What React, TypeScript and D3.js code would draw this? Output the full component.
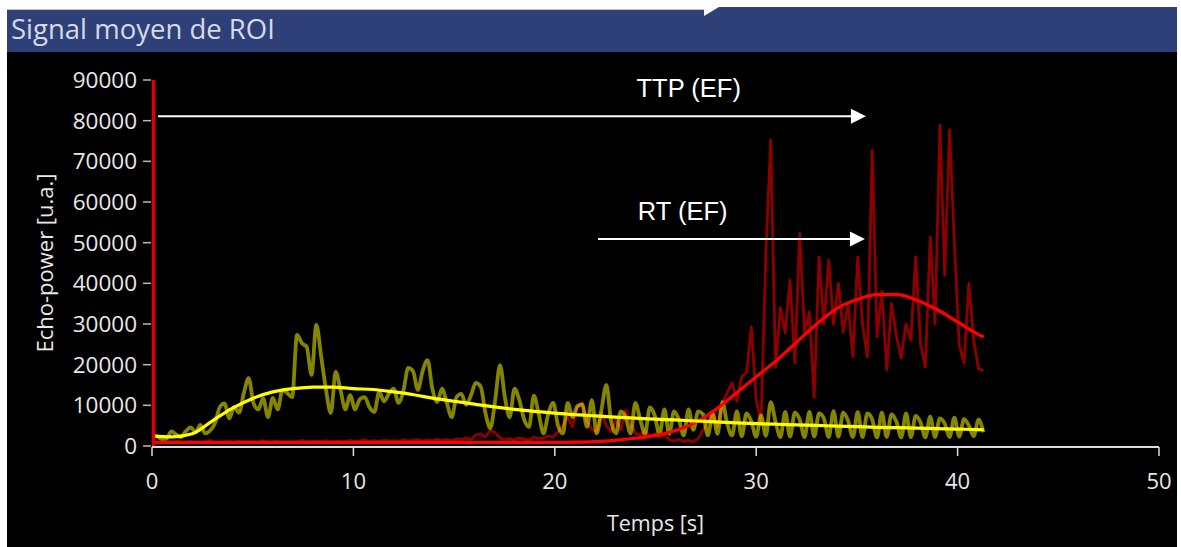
import React from "react";
import * as d3 from "d3";

// sampling step of the raw curves (s)
const FRAME_DT = 0.24;

// olive / yellow raw signal
const yellowRaw = [
  2500, 2400, 1700, 1800, 3600, 2800, 2200, 3600, 4600, 3400,
  5200, 3100, 3800, 5500, 9500, 10500, 6800, 9600, 8200, 13000,
  16700, 10500, 9000, 11700, 7100, 11800, 9000, 13800, 13000, 12000,
  27300, 25300, 24400, 17500, 29800, 22000, 13800, 8100, 18200, 13800,
  9000, 12500, 9000, 11500, 12000, 9500, 8400, 13300, 11000, 12800,
  14100, 10600, 13500, 19200, 18400, 13800, 18500, 21100, 14100, 10800,
  14100, 10600, 7100, 12000, 12800, 10100, 12500, 15500, 14600, 8000,
  4400, 11300, 19900, 12000, 7100, 14100, 11300, 6500, 4700, 12400,
  7900, 3100, 8000, 10600, 5000, 3100, 10600, 7100, 9800, 10200,
  4700, 11300, 3100, 9000, 15000, 6000, 3100, 8500, 7000, 3100,
  10600, 6500, 3000, 9500, 7500, 2800, 9000, 3000, 8500, 6500,
  2600, 9000, 4000, 8500, 7800, 2600, 8000, 3000, 10800, 5500,
  2600, 8500, 2400, 8000, 6000, 2300, 7500, 2500, 10800, 6000,
  2200, 8400, 2300, 8200, 6500, 2200, 8400, 2300, 8000, 6800,
  2200, 8600, 2300, 8200, 6200, 2200, 8300, 2200, 8000, 6500,
  2100, 8200, 2200, 7800, 6000, 2100, 8000, 2200, 7400, 5800,
  2100, 7200, 2200, 6800, 5500, 2200, 7000, 2300, 6600, 5000,
  2400, 6500, 3400,
];

// dark red raw signal
const redRaw = [
  800, 900, 700, 1000, 800, 1200, 900, 700, 1100, 900,
  800, 1000, 1300, 900, 800, 1100, 1000, 800, 1200, 900,
  1100, 800, 1000, 1300, 900, 1000, 1200, 800, 1100, 900,
  1000, 1400, 900, 1100, 1200, 1000, 1300, 900, 1200, 1100,
  1000, 1400, 1100, 1200, 1500, 1000, 1300, 1100, 1400, 1200,
  1300, 1100, 1500, 1200, 1400, 1600, 1200, 1500, 1300, 1700,
  1400, 1600, 1300, 1800, 1500, 2000, 1600, 2700, 3000, 2200,
  3900, 3200, 2000, 1600, 1800, 1500, 2000, 1700, 1500, 2200,
  1800, 2000, 2500, 2200, 3500, 5000, 7100, 4700, 9500, 10600,
  6000, 4000, 3500, 8000, 5000, 3500, 6500, 4000, 8800, 5500,
  3200, 2500, 3800, 2200, 3000, 2200, 2800, 1500, 1200, 1600,
  1100, 1400, 1000, 1800, 3900, 6000, 8000, 4700, 10600, 13000,
  15500, 11000, 17000, 18000, 29300, 11300, 5700, 47400, 75200, 19400,
  34000, 27800, 40800, 20400, 52300, 27800, 33000, 12000, 46500, 30000,
  45700, 30000, 40000, 28000, 35000, 21900, 46500, 30000, 21900, 72800,
  26800, 38000, 18700, 35000, 27000, 21600, 30000, 26000, 46500, 25000,
  19400, 51400, 30000, 78900, 42000, 77700, 50000, 25000, 20400, 40000,
  26000, 19000, 18500,
];

// fitted curves
const fitTimes = [
  0, 1, 2, 3, 4, 5, 6, 7, 8, 9, 10, 11, 12, 13, 14, 15, 16, 17, 18, 19, 20,
  21, 22, 23, 24, 25, 26, 27, 28, 29, 30, 31, 32, 33, 34, 35, 36, 37, 38, 39, 40, 41, 41.3,
];
const yellowFit = [
  2500, 2250, 3000, 6200, 9300, 11700, 13300, 14100, 14500, 14500, 14100,
  13900, 13300, 12600, 11700, 11000, 10300, 9600, 9000, 8500, 8100,
  7700, 7400, 7100, 6850, 6600, 6400, 6150, 5950, 5700, 5500,
  5350, 5200, 5050, 4900, 4750, 4600, 4500, 4380, 4260, 4150, 4050, 4000,
];
const redFit = [
  900, 900, 900, 900, 900, 900, 900, 900, 900, 900, 900,
  900, 900, 900, 900, 900, 900, 900, 900, 900, 900,
  950, 1100, 1400, 1900, 2600, 3800, 5800, 9000, 13000, 17000,
  21000, 25500, 30000, 33800, 36000, 37200, 37200, 35800, 33500, 30500, 27500, 26800,
];

const xTicks = [0, 10, 20, 30, 40, 50];
const yTicks = [0, 10000, 20000, 30000, 40000, 50000, 60000, 70000, 80000, 90000];

// annotation arrows (times in s, level in u.a.)
const ttpArrow = { label: "TTP (EF)", from: 0.3, to: 35.45, level: 81100, labelAt: 26.65 };
const rtArrow = { label: "RT (EF)", from: 22.15, to: 35.4, level: 50900, labelAt: 26.35 };

const W = 1181;
const H = 547;
const FONT = "'Open Sans', 'Noto Sans', sans-serif";

const App = () => {
  const x = d3.scaleLinear().domain([0, 50]).range([152, 1159]);
  const y = d3.scaleLinear().domain([0, 90000]).range([446, 80]);

  const rawLine = (curve: d3.CurveFactory) =>
    d3
      .line<number>()
      .x((_, i) => x(i * FRAME_DT))
      .y((d) => y(d))
      .curve(curve);

  const fitLine = d3
    .line<number>()
    .x((_, i) => x(fitTimes[i]))
    .y((d) => y(d))
    .curve(d3.curveMonotoneX);

  const arrow = (a: typeof ttpArrow, key: string) => {
    const x0 = x(a.from);
    const x1 = x(a.to);
    const yy = y(a.level);
    return (
      <g key={key}>
        <line x1={x0} x2={x1 - 12} y1={yy} y2={yy} stroke="#fff" strokeWidth={2} />
        <path d={`M${x1},${yy} L${x1 - 15},${yy - 7.5} L${x1 - 15},${yy + 7.5} Z`} fill="#fff" />
        <text
          x={x(a.labelAt)}
          y={yy - 19}
          fill="#fff"
          fontFamily="'Liberation Sans', Arial, sans-serif"
          fontSize={25.5}
          textAnchor="middle"
        >
          {a.label}
        </text>
      </g>
    );
  };

  return (
    <svg
      width={W}
      height={H}
      style={{ position: "absolute", left: 0, top: 0, display: "block" }}
    >
      <rect x={0} y={0} width={W} height={H} fill="#fff" />
      {/* panel */}
      <rect x={7} y={52} width={1170} height={H - 52} fill="#000" />
      {/* title bar */}
      <rect x={7} y={9} width={697} height={43} fill="#2f4078" />
      <line x1={7} x2={704} y1={9.5} y2={9.5} stroke="#b8c2dc" strokeWidth={1} />
      <path d="M704,16 L719,7 L1177,7 L1177,52 L704,52 Z" fill="#2f4078" />
      <text x={11} y={39} fill="#d4dae8" fontFamily={FONT} fontSize={27.5}>
        Signal moyen de ROI
      </text>

      {/* raw curves */}
      <path d={rawLine(d3.curveLinear)(redRaw) ?? ""} fill="none" stroke="#ff0000" strokeOpacity={0.55} strokeWidth={2.8} strokeLinejoin="round" />
      <path d={rawLine(d3.curveMonotoneX)(yellowRaw) ?? ""} fill="none" stroke="#ffff00" strokeOpacity={0.52} strokeWidth={3.8} strokeLinejoin="round" />

      {/* fits */}
      <path d={fitLine(redFit) ?? ""} fill="none" stroke="#ff0000" strokeWidth={3.2} />
      <path d={fitLine(yellowFit) ?? ""} fill="none" stroke="#ffff00" strokeWidth={3.2} />

      {/* y axis */}
      <line x1={153.5} x2={153.5} y1={y(90000)} y2={y(0)} stroke="#e00000" strokeWidth={3.5} />
      {yTicks.map((t) => (
        <g key={t} transform={`translate(0,${y(t)})`}>
          <line x1={143} x2={151} stroke="#bbb" strokeWidth={1.5} />
          <text
            x={137}
            dy="0.36em"
            fill="#e8e8e8"
            fontFamily={FONT}
            fontSize={22.5}
            textAnchor="end"
          >
            {t}
          </text>
        </g>
      ))}
      <text
        transform={`translate(45,${(y(0) + y(90000)) / 2}) rotate(-90)`}
        fill="#e8e8e8"
        fontFamily={FONT}
        fontSize={22}
        textAnchor="middle"
        dy="0.35em"
      >
        Echo-power [u.a.]
      </text>

      {/* x axis */}
      <line x1={x(0)} x2={x(50)} y1={447} y2={447} stroke="#ddd" strokeWidth={2} />
      {xTicks.map((t) => (
        <g key={t} transform={`translate(${x(t)},0)`}>
          <line y1={447} y2={456} stroke="#ddd" strokeWidth={1.5} />
          <text y={481} dy="0.36em" fill="#e8e8e8" fontFamily={FONT} fontSize={22} textAnchor="middle">
            {t}
          </text>
        </g>
      ))}
      <text x={(x(0) + x(50)) / 2} y={523} dy="0.35em" fill="#e8e8e8" fontFamily={FONT} fontSize={21.5} textAnchor="middle">
        Temps [s]
      </text>

      {/* annotations */}
      {arrow(ttpArrow, "ttp")}
      {arrow(rtArrow, "rt")}
    </svg>
  );
};

export default App;
